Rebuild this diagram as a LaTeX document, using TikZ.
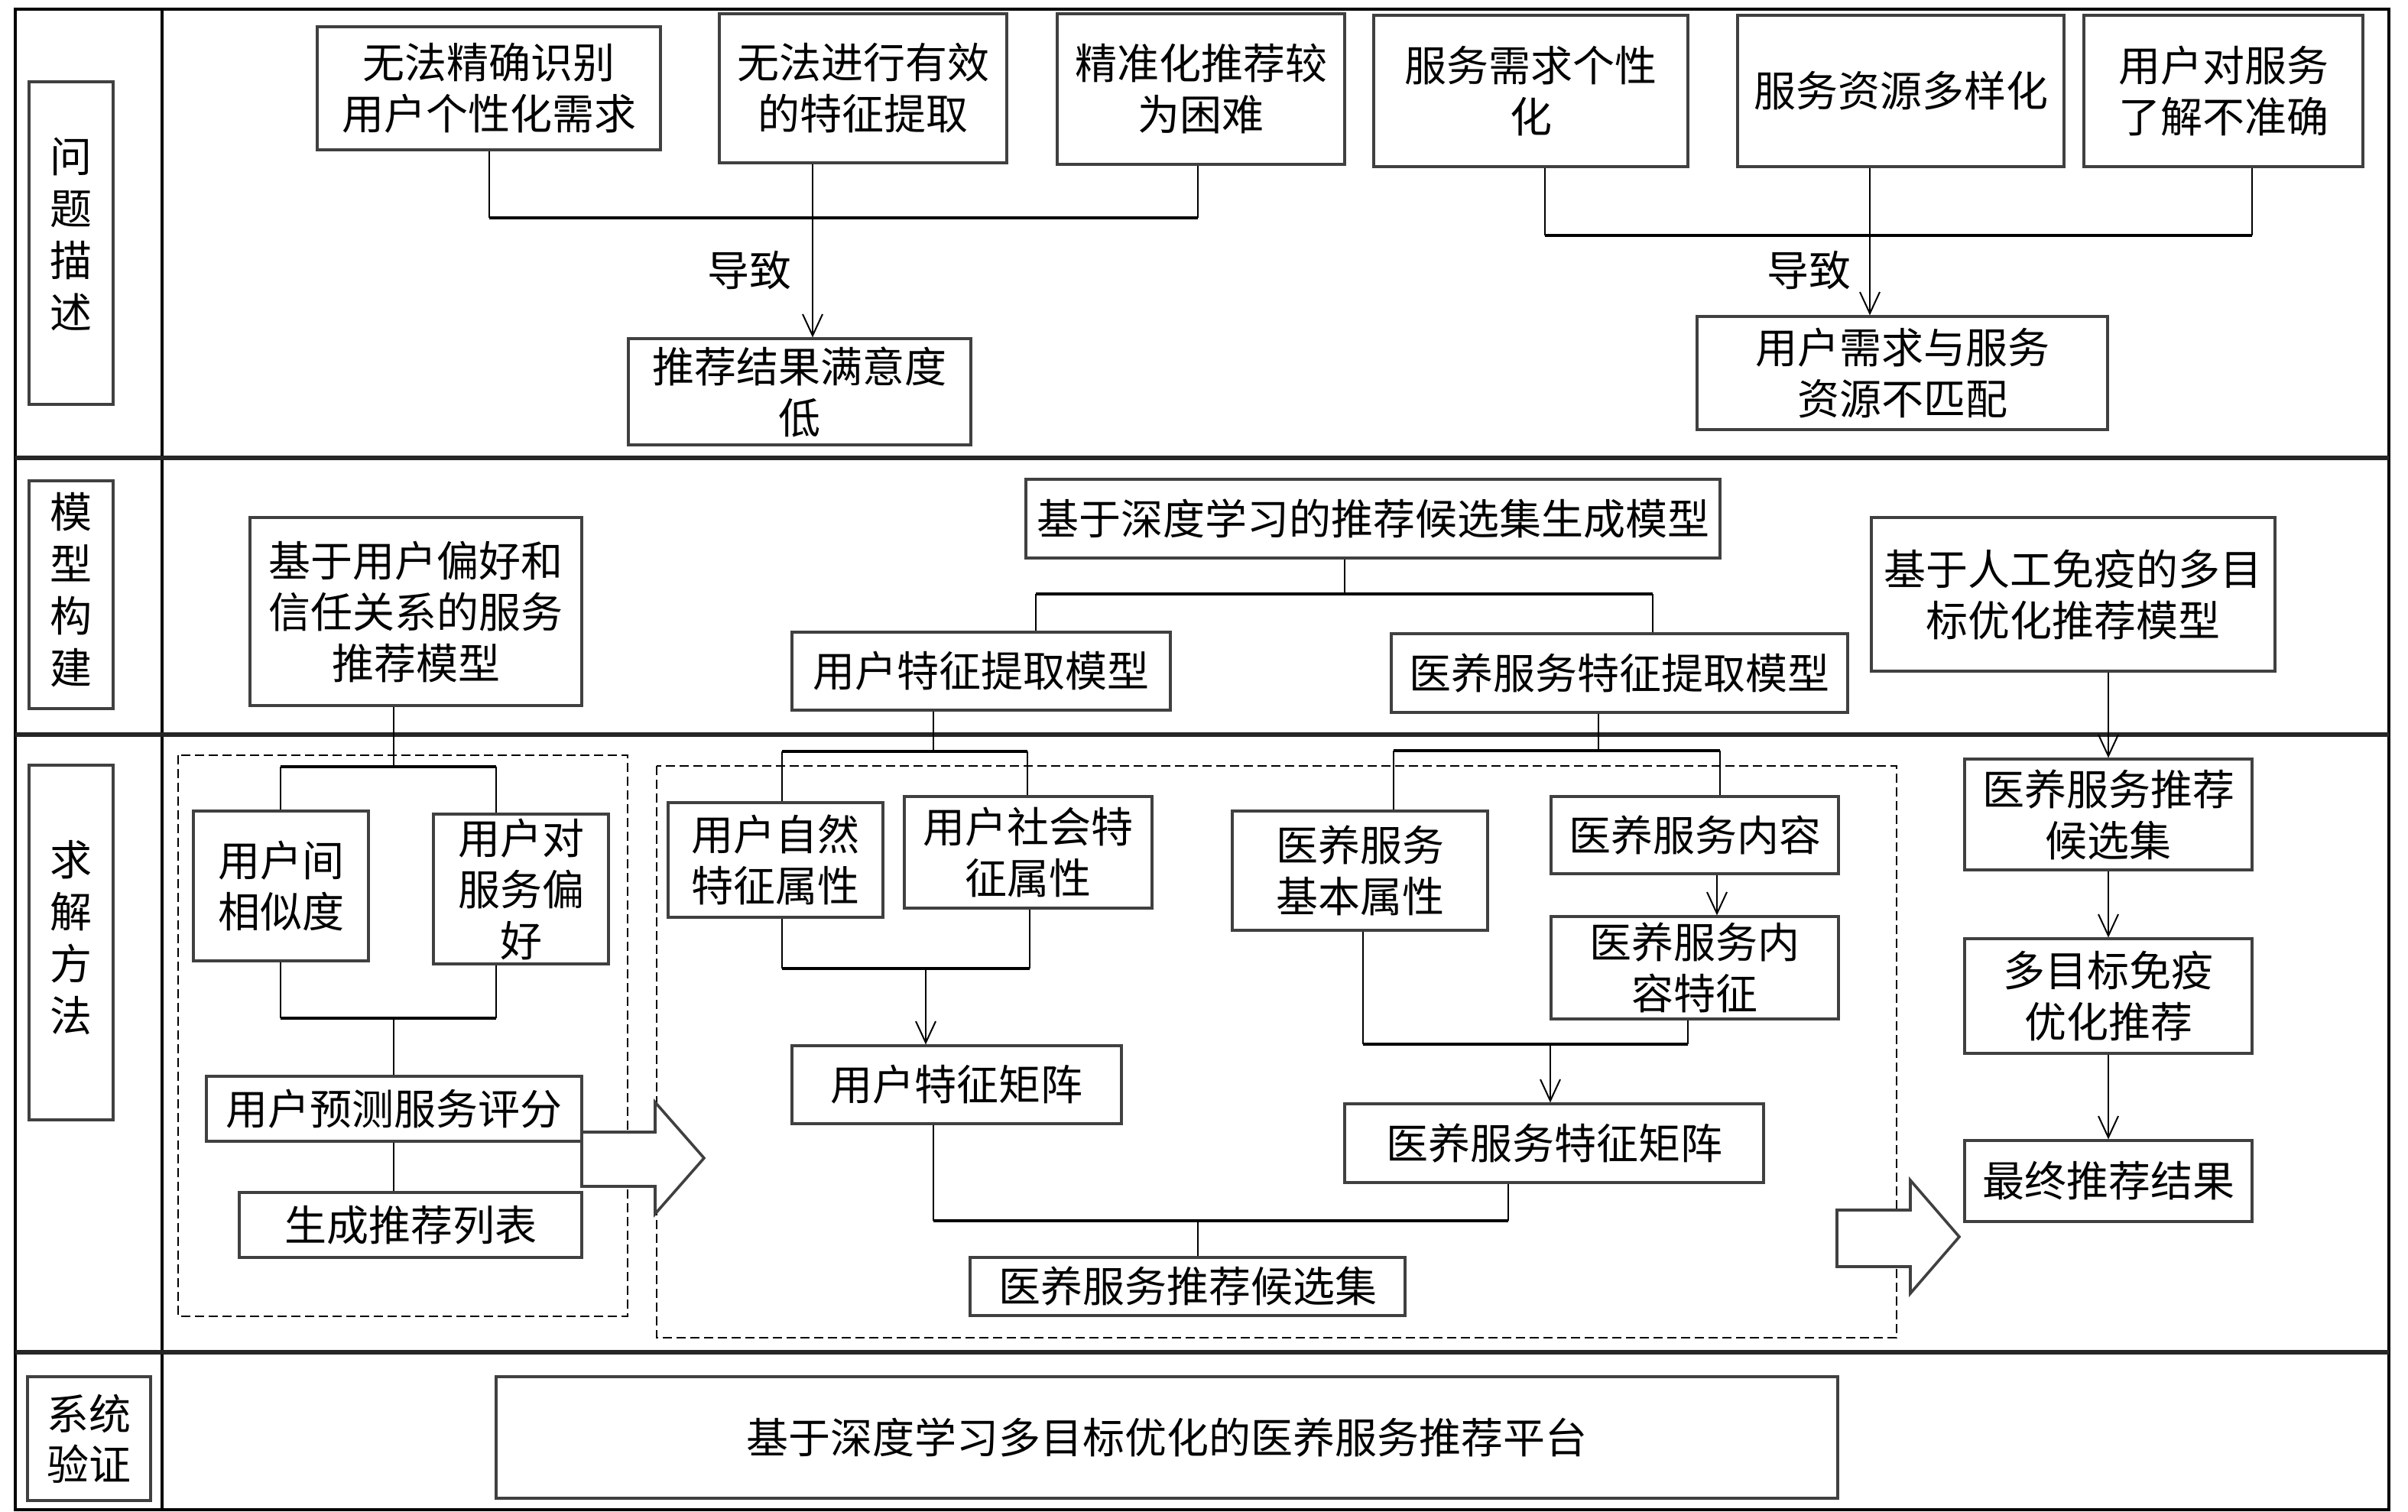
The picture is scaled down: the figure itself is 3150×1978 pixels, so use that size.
\documentclass[tikz,border=0pt]{standalone}
\usepackage{fontspec}
\setmainfont{Noto Sans CJK SC}
\usetikzlibrary{arrows.meta}
\begin{document}
\begin{tikzpicture}[x=0.25pt,y=-0.25pt,
  txt/.style={font=\fontsize{13.75pt}{16.75pt}\selectfont, align=center, inner sep=0pt},
  box/.style={txt, draw=black!75, line width=0.8pt, fill=white},
  lab/.style={draw=black!75, line width=0.8pt, fill=white, inner sep=0pt},
  labtxt/.style={txt, font=\fontsize{13.75pt}{17pt}\selectfont},
  sz/.style 2 args={minimum width=#1*0.25pt, minimum height=#2*0.25pt},
  vline/.style={line width=0.5pt, draw=black},
  hline/.style={line width=1.1pt, draw=black},
  arr/.style={line width=0.5pt, draw=black, -{Straight Barb[length=7pt,width=6.5pt]}},
  frame/.style={line width=0.8pt, draw=black},
  divider/.style={line width=1.3pt, draw=black!85},
  dbox/.style={line width=0.6pt, draw=black, dash pattern=on 3pt off 1.5pt},
  blockarrow/.style={line width=0.9pt, draw=black!75, fill=white}
]
\useasboundingbox (0,0) rectangle (3150,1978);

% frame and dividers
\draw[frame] (20,12) rectangle (3125,1975);
\draw[frame] (212,12) -- (212,1975);
\draw[divider] (20,599) -- (3125,599);
\draw[divider] (20,961) -- (3125,961);
\draw[divider] (20,1769) -- (3125,1769);

% dashed groups
\draw[dbox] (233,988) rectangle (821,1722);
\draw[dbox] (859,1002) rectangle (2481,1750);

% labels
\node[lab, sz={110}{422}] (L1) at (93,318) {};
\node[labtxt] (L1t) at (93,306) {问\\题\\描\\述};
\node[lab, sz={110}{298}] (L2) at (93,778) {};
\node[labtxt] (L2t) at (93,772) {模\\型\\构\\建};
\node[lab, sz={110}{464}] (L3) at (93,1233) {};
\node[labtxt] (L3t) at (93,1227) {求\\解\\方\\法};
\node[lab, sz={161}{162}] (L4) at (116.5,1882) {};
\node[labtxt, font=\fontsize{13.75pt}{16.5pt}\selectfont] (L4t) at (116.5,1882) {系统\\验证};

% top row
\node[box, sz={449}{161}] (b1) at (639.5,115.5) {无法精确识别\\用户个性化需求};
\node[box, sz={376}{195}] (b2) at (1129,115.5) {无法进行有效\\的特征提取};
\node[box, sz={376}{197}] (b3) at (1571,116.5) {精准化推荐较\\为困难};
\node[box, sz={411}{198}] (b4) at (2002.5,119) {服务需求个性\\化};
\node[box, sz={427}{198}] (b5) at (2486.5,119) {服务资源多样化};
\node[box, sz={365}{198}] (b6) at (2908.5,119) {用户对服务\\了解不准确};
\node[box, sz={448}{139}] (r1) at (1046,512.5) {推荐结果满意度\\低};
\node[box, sz={537}{148}] (r2) at (2488.5,488) {用户需求与服务\\资源不匹配};

\coordinate (t1a) at (640,285);
\coordinate (t1b) at (1567,285);
\coordinate (t1c) at (1063,285);
\draw[vline] (b1.south -| t1a) -- (t1a);
\draw[vline] (b3.south -| t1b) -- (t1b);
\draw[hline] (t1a) -- (t1b);
\draw[arr] (b2.south -| t1c) -- (r1.north -| t1c);
\node[txt] (d1) at (980,354) {导致};

\coordinate (t2a) at (2021,308);
\coordinate (t2b) at (2946,308);
\coordinate (t2c) at (2446,308);
\draw[vline] (b4.south -| t2a) -- (t2a);
\draw[vline] (b6.south -| t2b) -- (t2b);
\draw[hline] (t2a) -- (t2b);
\draw[arr] (b5.south -| t2c) -- (r2.north -| t2c);
\node[txt] (d2) at (2366,354) {导致};

% model row
\node[box, sz={434}{246}] (m1) at (544,800) {基于用户偏好和\\信任关系的服务\\推荐模型};
\node[box, sz={908}{103}] (m2) at (1796,678.5) {基于深度学习的推荐候选集生成模型};
\node[box, sz={495}{102}] (m3) at (1283.5,878) {用户特征提取模型};
\node[box, sz={597}{103}] (m4) at (2118.5,880.5) {医养服务特征提取模型};
\node[box, sz={528}{201}] (m5) at (2712,777.5) {基于人工免疫的多目\\标优化推荐模型};

\coordinate (ma) at (1355,777);
\coordinate (mb) at (2162,777);
\coordinate (mc) at (1759,777);
\draw[vline] (m2.south -| mc) -- (mc);
\draw[hline] (ma) -- (mb);
\draw[vline] (ma) -- (m3.north -| ma);
\draw[vline] (mb) -- (m4.north -| mb);

% solution row, left group
\node[box, sz={229}{196}] (s1) at (367.5,1159) {用户间\\相似度};
\node[box, sz={229}{196}] (s2) at (681.5,1163) {用户对\\服务偏\\好};
\node[box, sz={491}{85}] (s3) at (515.5,1450.5) {用户预测服务评分};
\node[box, sz={448}{85}] (s4) at (537,1602.5) {生成推荐列表};

\coordinate (pa) at (367,1003);
\coordinate (pb) at (649,1003);
\coordinate (pc) at (515,1003);
\draw[vline] (m1.south -| pc) -- (pc);
\draw[hline] (pa) -- (pb);
\draw[vline] (pa) -- (s1.north -| pa);
\draw[vline] (pb) -- (s2.north -| pb);
\coordinate (qa) at (367,1332);
\coordinate (qb) at (649,1332);
\coordinate (qc) at (515,1332);
\draw[vline] (s1.south -| qa) -- (qa);
\draw[vline] (s2.south -| qb) -- (qb);
\draw[hline] (qa) -- (qb);
\draw[vline] (qc) -- (s3.north -| qc);
\draw[vline] (s3.south -| qc) -- (s4.north -| qc);

% solution row, middle group
\node[box, sz={281}{150}] (s5) at (1014.5,1125) {用户自然\\特征属性};
\node[box, sz={324}{146}] (s6) at (1345,1115) {用户社会特\\征属性};
\node[box, sz={431}{102}] (s7) at (1251.5,1419) {用户特征矩阵};
\node[box, sz={334}{156}] (s8) at (1779,1139) {医养服务\\基本属性};
\node[box, sz={376}{101}] (s9) at (2217,1092.5) {医养服务内容};
\node[box, sz={376}{134}] (s10) at (2217,1266) {医养服务内\\容特征};
\node[box, sz={548}{103}] (s11) at (2033,1495.5) {医养服务特征矩阵};
\node[box, sz={569}{76}] (s12) at (1553.5,1683) {医养服务推荐候选集};

\coordinate (ua) at (1023,983);
\coordinate (ub) at (1344,983);
\coordinate (uc) at (1221,983);
\draw[vline] (m3.south -| uc) -- (uc);
\draw[hline] (ua) -- (ub);
\draw[vline] (ua) -- (s5.north -| ua);
\draw[vline] (ub) -- (s6.north -| ub);
\coordinate (va) at (1023,1267);
\coordinate (vb) at (1347,1267);
\coordinate (vc) at (1211,1267);
\draw[vline] (s5.south -| va) -- (va);
\draw[vline] (s6.south -| vb) -- (vb);
\draw[hline] (va) -- (vb);
\draw[arr] (vc) -- (s7.north -| vc);

\coordinate (wa) at (1823,982);
\coordinate (wb) at (2250,982);
\coordinate (wc) at (2091,982);
\coordinate (wd) at (2246,1170);
\draw[vline] (m4.south -| wc) -- (wc);
\draw[hline] (wa) -- (wb);
\draw[vline] (wa) -- (s8.north -| wa);
\draw[vline] (wb) -- (s9.north -| wb);
\draw[arr] (s9.south -| wd) -- (s10.north -| wd);
\coordinate (xa) at (1783,1366);
\coordinate (xb) at (2208,1366);
\coordinate (xc) at (2028,1366);
\draw[vline] (s8.south -| xa) -- (xa);
\draw[vline] (s10.south -| xb) -- (xb);
\draw[hline] (xa) -- (xb);
\draw[arr] (xc) -- (s11.north -| xc);

\coordinate (ya) at (1221,1597);
\coordinate (yb) at (1973,1597);
\coordinate (yc) at (1567,1597);
\draw[vline] (s7.south -| ya) -- (ya);
\draw[vline] (s11.south -| yb) -- (yb);
\draw[hline] (ya) -- (yb);
\draw[vline] (yc) -- (s12.north -| yc);

% right column
\node[box, sz={376}{145}] (s13) at (2758,1065.5) {医养服务推荐\\候选集};
\node[box, sz={376}{150}] (s14) at (2758,1303) {多目标免疫\\优化推荐};
\node[box, sz={376}{106}] (s15) at (2758,1545) {最终推荐结果};
\draw[arr] (m5.south -| s13.north) -- (s13.north);
\draw[arr] (s13.south) -- (s14.north);
\draw[arr] (s14.south) -- (s15.north);

% block arrows
\draw[blockarrow] (761,1481) -- (857,1481) -- (857,1442) -- (921,1515) -- (857,1588) -- (857,1552) -- (761,1552) -- cycle;
\draw[blockarrow] (2403,1583) -- (2499,1583) -- (2499,1544) -- (2563,1618) -- (2499,1692) -- (2499,1657) -- (2403,1657) -- cycle;

% system row
\node[box, sz={1755}{159}] (p) at (1526.5,1880.5) {基于深度学习多目标优化的医养服务推荐平台};

\end{tikzpicture}
\end{document}
